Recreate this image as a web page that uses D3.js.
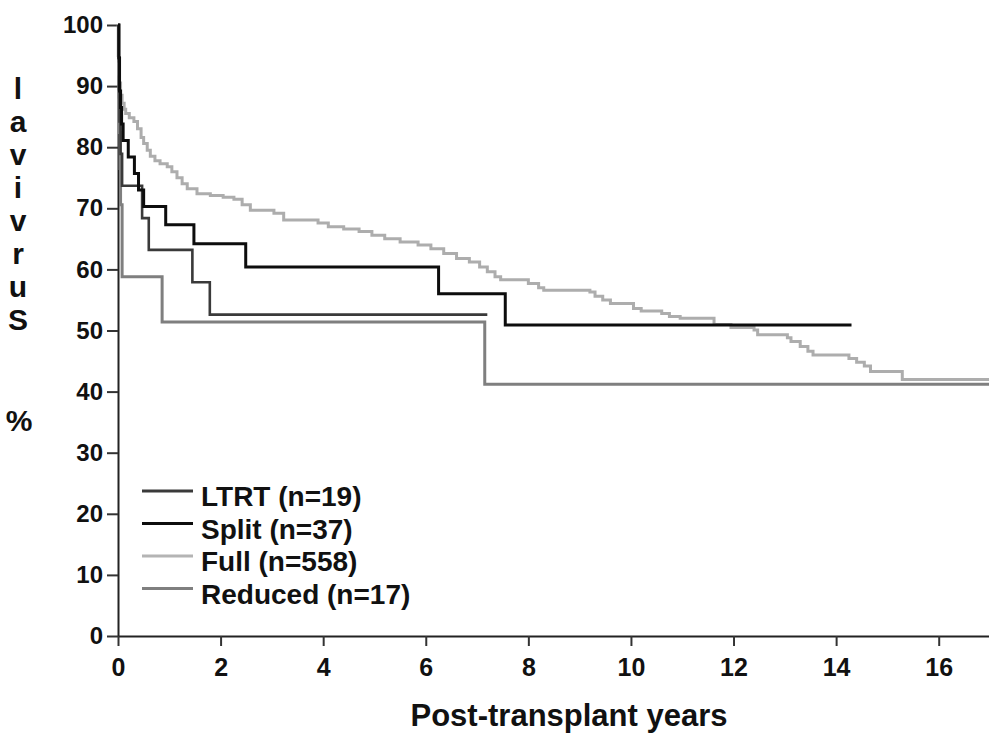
<!DOCTYPE html>
<html>
<head>
<meta charset="utf-8">
<script src="https://cdn.jsdelivr.net/npm/d3@7"></script>
<style>
  body { margin:0; background:#fff; }
  text { font-family:"Liberation Sans", Arial, sans-serif; font-weight:bold; fill:#111; }
</style>
</head>
<body>
<div id="chart"></div>
<script>
// survival steps: [years, % surviving]
var ltrt = [[0,100],[0.01,94.7],[0.02,89.5],[0.03,84.2],[0.05,78.9],[0.08,73.7],[0.47,68.4],[0.6,63.2],[1.45,57.9],[1.79,52.6]];
var ltrtEnd = 7.2;

var split = [[0,100],[0.02,94.6],[0.03,89.2],[0.05,86.5],[0.07,83.8],[0.1,81.1],[0.2,78.4],[0.32,75.7],[0.4,73.0],[0.5,70.3],[0.93,67.3],[1.48,64.2],[2.49,60.4],[6.25,56.0],[7.55,50.9]];
var splitEnd = 14.3;

var full = [[0,100],[0.005,95],[0.01,92],[0.02,90.5],[0.05,88.5],[0.08,87.2],[0.12,86.2],[0.15,85.5],[0.22,84.8],[0.31,84.2],
  [0.38,83],[0.45,81.6],[0.5,80.6],[0.57,79.5],[0.63,78.5],[0.72,77.8],[0.82,77.3],[0.96,76.8],[1.05,76],[1.15,75],
  [1.25,74],[1.35,73.2],[1.54,72.4],[1.8,72.1],[2.05,71.8],[2.26,71.5],[2.42,70.6],[2.58,69.7],[3.04,69.2],[3.23,68.1],
  [3.9,67.6],[4.1,67.0],[4.4,66.6],[4.7,66.2],[4.95,65.6],[5.2,65.0],[5.5,64.5],[5.85,64.0],[6.1,63.4],[6.35,62.6],
  [6.6,61.8],[6.85,61.2],[7.05,60.4],[7.2,59.6],[7.35,58.8],[7.46,58.3],[8.0,57.7],[8.2,57.0],[8.3,56.6],[9.2,56.3],
  [9.3,55.6],[9.45,55.0],[9.6,54.4],[10.05,53.6],[10.2,53.2],[10.6,52.8],[10.75,52.3],[10.96,52.0],[11.62,51.0],[11.95,50.5],
  [12.4,50.1],[12.47,49.3],[13.05,48.8],[13.12,48.2],[13.3,47.4],[13.45,46.6],[13.55,46.0],[14.25,45.4],[14.4,44.8],[14.55,44.2],
  [14.67,43.3],[15.29,42.0]];
var fullEnd = 17;

var reduced = [[0,100],[0.01,94.1],[0.02,88.2],[0.03,82.4],[0.04,76.5],[0.05,70.6],[0.08,58.8],[0.86,51.4],[7.15,41.2]];
var reducedEnd = 17;

var legendLabels = ["LTRT (n=19)", "Split (n=37)", "Full (n=558)", "Reduced (n=17)"];
var xTicks = [0,2,4,6,8,10,12,14,16];
var yTicks = [0,10,20,30,40,50,60,70,80,90,100];
var yLetters = ["l","a","v","i","v","r","u","S"];

var margin = { top:25, left:118, right:0, bottom:98 };
var width = 989 - margin.left - margin.right;
var height = 734 - margin.top - margin.bottom;

var root = d3.select("#chart")
            .append("svg")
            .attr("width", 989)
            .attr("height", 734);

var svg = root.append("g")
            .attr("transform", "translate(" + margin.left + "," + margin.top + ")");

var x = d3.scaleLinear().domain([0, 17]).range([0, width + 1]);
var y = d3.scaleLinear().domain([0, 100]).range([height, 0]);

// axes
var yAxis = svg.append("g")
    .call(d3.axisLeft(y).tickValues(yTicks).tickSize(11).tickSizeOuter(0).tickPadding(4));
var xAxis = svg.append("g")
    .attr("transform", "translate(0," + height + ")")
    .call(d3.axisBottom(x).tickValues(xTicks).tickSize(10).tickSizeOuter(0).tickPadding(12));

yAxis.selectAll("text").style("font-size", "24px");
xAxis.selectAll("text").style("font-size", "25px");
root.selectAll(".domain").attr("stroke", "#222").attr("stroke-width", 2);
root.selectAll(".tick line").attr("stroke", "#333").attr("stroke-width", 2);

// curves
var line = d3.line()
    .x(function(d){ return x(d[0]); })
    .y(function(d){ return y(d[1]); })
    .curve(d3.curveStepAfter);

var series = [
  { data: full, end: fullEnd, color: "#adadad", w: 3 },
  { data: reduced, end: reducedEnd, color: "#7f7f7f", w: 3 },
  { data: ltrt, end: ltrtEnd, color: "#3a3a3a", w: 2.6 },
  { data: split, end: splitEnd, color: "#0d0d0d", w: 3 }
];

series.forEach(function(s){
  var pts = s.data.concat([[s.end, s.data[s.data.length - 1][1]]]);
  svg.append("path")
     .datum(pts)
     .attr("d", line)
     .attr("fill", "none")
     .attr("stroke", s.color)
     .attr("stroke-width", s.w);
});

// legend
var legendColors = ["#3a3a3a", "#0d0d0d", "#b4b4b4", "#7f7f7f"];
var legend = root.selectAll(".legend")
    .data(legendLabels)
    .enter().append("g")
    .attr("class", "legend")
    .attr("transform", function(d, i){ return "translate(142," + (506 + i * 32.5) + ")"; });

legend.append("line")
    .attr("x1", 0).attr("x2", 51)
    .attr("y1", -15).attr("y2", -15)
    .attr("stroke", function(d, i){ return legendColors[i]; })
    .attr("stroke-width", 3);

legend.append("text")
    .attr("x", 59)
    .style("font-size", "28px")
    .text(function(d){ return d; });

// y label, one letter per row
root.selectAll(".yletter")
    .data(yLetters)
    .enter().append("text")
    .attr("class", "yletter")
    .attr("x", 18)
    .attr("y", function(d, i){ return 99 + i * 33; })
    .attr("text-anchor", "middle")
    .style("font-size", "30px")
    .text(function(d){ return d; });

root.append("text")
    .attr("x", 19)
    .attr("y", 431)
    .attr("text-anchor", "middle")
    .style("font-size", "30px")
    .text("%");

// x label
root.append("text")
    .attr("x", 569)
    .attr("y", 726)
    .attr("text-anchor", "middle")
    .style("font-size", "31px")
    .text("Post-transplant years");
</script>
</body>
</html>
